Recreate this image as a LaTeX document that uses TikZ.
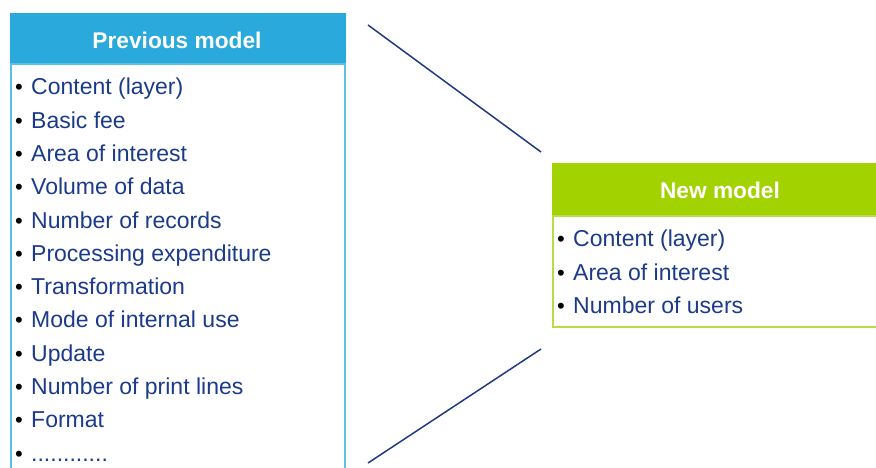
\documentclass[tikz,border=0pt]{standalone}
\usepackage{fontspec}
\setmainfont{Liberation Sans}
\definecolor{prevblue}{HTML}{29A9DC}
\definecolor{prevedge}{HTML}{5CBFE6}
\definecolor{newgreen}{HTML}{A2D300}
\definecolor{newedge}{HTML}{B6DD45}
\definecolor{itemblue}{HTML}{1B3A8A}
\definecolor{lineblue}{HTML}{1F3A80}
\newcommand{\moredots}{............}
\tikzset{
  headtext/.style={inner sep=0pt, text=white, font=\fontsize{22.7}{27}\selectfont\bfseries},
  itemtext/.style={anchor=base west, inner sep=0pt, text=itemblue, font=\fontsize{23}{27}\selectfont},
  dotmark/.style={anchor=base west, inner sep=0pt, font=\fontsize{22}{26}\selectfont}
}

\begin{document}
\begin{tikzpicture}[x=1pt,y=-1pt]
    \useasboundingbox (0,0) rectangle (876,468);
    \clip (0,0) rectangle (876,468);
    % previous model
    \fill[prevblue] (10,13) rectangle (346,64);
    \draw[prevedge, line width=1.6] (11,64) rectangle (345,490);
    \node[headtext] (prevhead) at (177,40) {Previous model};
    \foreach \txt [count=\i] in {Content (layer), Basic fee, Area of interest,
	Volume of data, Number of records, Processing expenditure,
	Transformation, Mode of internal use, Update,
	Number of print lines, Format, \moredots}
    {
	\node[dotmark] (prevdot\i) at (15, 61.5+33.3*\i) {•};
	\node[itemtext] (previtem\i) at (31, 61.5+33.3*\i) {\txt};
    }
    % new model
    \fill[newgreen] (552,163) rectangle (888,216);
    \draw[newedge, line width=1.6] (553,216) rectangle (888,327);
    \node[headtext] (newhead) at (720,190) {New model};
    \foreach \txt [count=\i] in {Content (layer), Area of interest, Number of users}
    {
	\node[dotmark] (newdot\i) at (557, 213.5+33.3*\i) {•};
	\node[itemtext] (newitem\i) at (573, 213.5+33.3*\i) {\txt};
    }
    % funnel lines
    \coordinate (topstart) at (368,25);
    \coordinate (topend) at (541,152);
    \coordinate (botstart) at (368,463);
    \coordinate (botend) at (541,349);
    \draw[lineblue, line width=1.5] (topstart) -- (topend);
    \draw[lineblue, line width=1.5] (botstart) -- (botend);
\end{tikzpicture}
\end{document}
